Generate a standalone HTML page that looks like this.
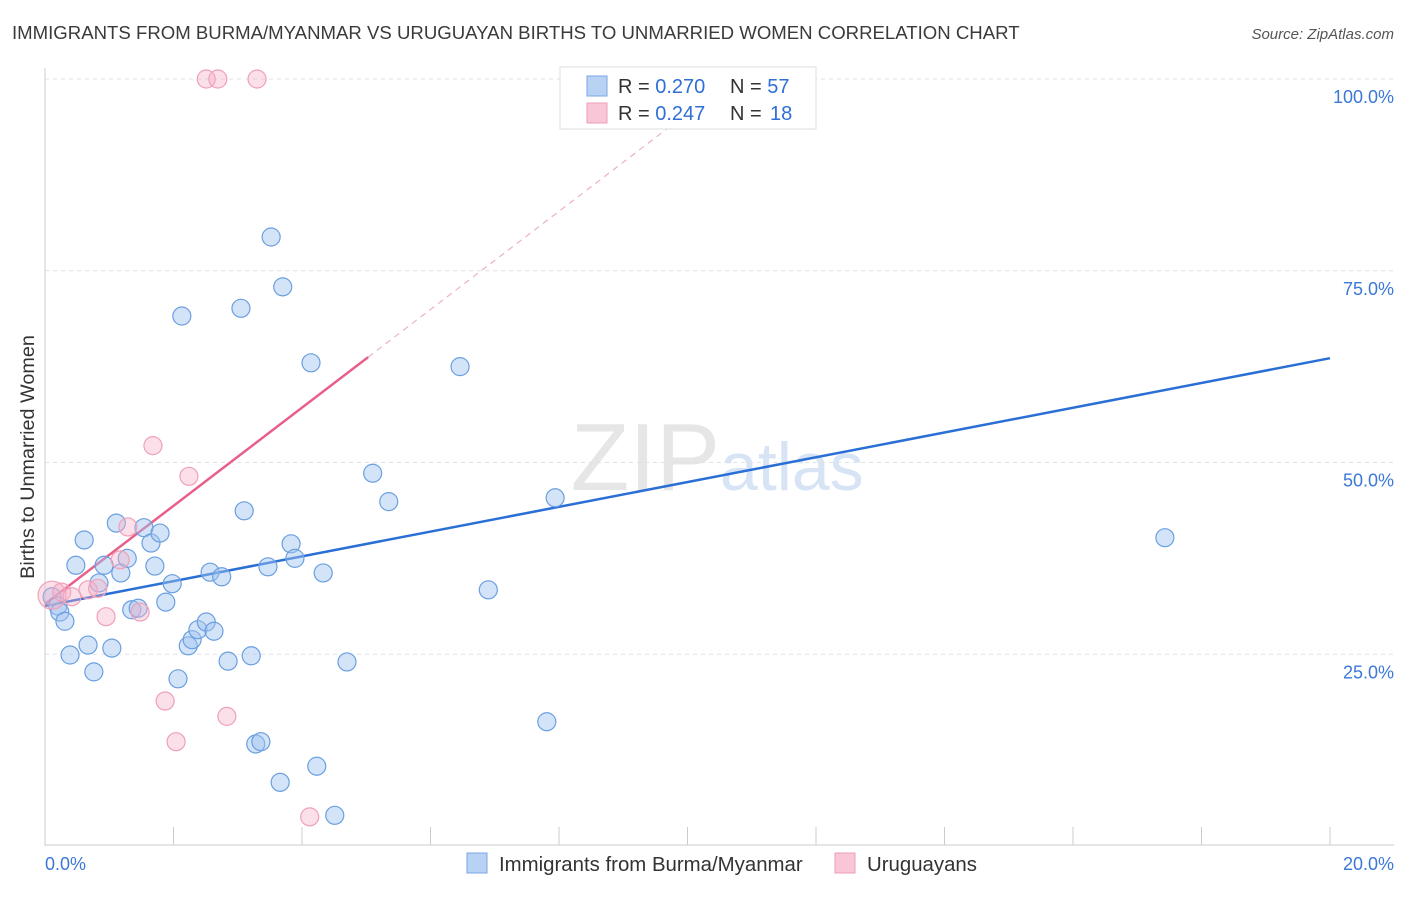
<!DOCTYPE html>
<html><head><meta charset="utf-8"><style>
body{margin:0;background:#fff;font-family:"Liberation Sans",sans-serif}
svg text{font-family:"Liberation Sans",sans-serif}
</style></head><body>
<svg id="chart" width="1406" height="892">
<text x="12" y="39" font-size="18.6" fill="#3a3a3a">IMMIGRANTS FROM BURMA/MYANMAR VS URUGUAYAN BIRTHS TO UNMARRIED WOMEN CORRELATION CHART</text>
<text x="1394" y="39" font-size="15" fill="#555" text-anchor="end" font-style="italic">Source: ZipAtlas.com</text>
<text x="720" y="490" font-size="96" fill="#e6e6e6" text-anchor="end" font-family="Liberation Serif">ZIP</text>
<text x="720" y="490" font-size="68" fill="#d6e4f6">atlas</text>
<text transform="translate(34,457) rotate(-90)" font-size="19.8" fill="#333" text-anchor="middle">Births to Unmarried Women</text>
<g id="grid"></g><g id="axes"></g><g id="lines"></g><g id="pts"></g>
<g>
<rect x="560" y="67" width="256" height="62" fill="#fff" stroke="#ddd"/>
<rect x="587" y="76" width="20" height="20" fill="#b8d2f4" stroke="#7aa6e4"/>
<rect x="587" y="103" width="20" height="20" fill="#f8c6d6" stroke="#ee9fba"/>
<text x="618" y="93" font-size="20" fill="#333">R = <tspan fill="#2f6fd6">0.270</tspan><tspan x="730">N = </tspan><tspan fill="#2f6fd6">57</tspan></text>
<text x="618" y="120" font-size="20" fill="#333">R = <tspan fill="#2f6fd6">0.247</tspan><tspan x="730">N = </tspan><tspan x="770" fill="#2f6fd6">18</tspan></text>
</g>
<g>
<rect x="467" y="853" width="20" height="20" fill="#b8d2f4" stroke="#7aa6e4"/>
<text x="499" y="871" font-size="20.4" fill="#333">Immigrants from Burma/Myanmar</text>
<rect x="835" y="853" width="20" height="20" fill="#f8c6d6" stroke="#ee9fba"/>
<text x="867" y="871" font-size="20.4" fill="#333">Uruguayans</text>
</g>
</svg>
<script>
const yTicks=[25,50,75,100];
const yTickLabels=["25.0%","50.0%","75.0%","100.0%"];
const xTickLabels=["0.0%","20.0%"];
const blueX=[0.11,0.20,0.23,0.31,0.39,0.48,0.61,0.67,0.76,0.84,0.92,1.04,1.11,1.18,1.28,1.35,1.45,1.54,1.65,1.71,1.79,1.88,1.98,2.07,2.13,2.23,2.29,2.38,2.51,2.57,2.63,2.75,2.85,3.05,3.10,3.21,3.28,3.36,3.47,3.52,3.66,3.70,3.83,3.89,4.14,4.23,4.33,4.51,4.70,5.10,5.35,6.46,6.90,7.81,7.94,11.19,17.43];
const blueY=[32.5,31.3,30.5,29.3,24.9,36.6,39.9,26.2,22.7,34.3,36.6,25.8,42.1,35.6,37.5,30.8,31.0,41.5,39.5,36.5,40.8,31.8,34.2,21.8,69.1,26.1,26.9,28.2,29.2,35.7,28.0,35.1,24.1,70.1,43.7,24.8,13.3,13.6,36.4,79.4,8.3,72.9,39.4,37.5,63.0,10.4,35.6,4.0,24.0,48.6,44.9,62.5,33.4,16.2,45.4,100,40.2];
const pinkX=[0.11,0.26,0.42,0.67,0.82,0.95,1.17,1.29,1.48,1.68,1.87,2.04,2.24,2.51,2.69,2.83,3.30,4.12];
const pinkY=[32.7,33.1,32.5,33.4,33.6,29.9,37.3,41.6,30.5,52.2,18.9,13.6,48.2,100,100,16.9,100,3.8];
const blueTrend=[31.3,63.6];
const pinkTrend=[31.55,6.4];
const NS="http://www.w3.org/2000/svg";
const sx=v=>45+v/20*1285, sy=v=>846-v/100*767;
function mk(tag,attrs,parent){const e=document.createElementNS(NS,tag);for(const k in attrs)e.setAttribute(k,attrs[k]);document.getElementById(parent).appendChild(e);return e;}
yTicks.forEach((t,i)=>{
 const l=mk('line',{x1:45,x2:1394,y1:sy(t),y2:sy(t),stroke:'#e2e2e2','stroke-dasharray':'4,4'},'grid');
 
 
 const tx=mk('text',{x:1394,y:sy(t)+24,'font-size':18,fill:'#3b78d8','text-anchor':'end'},'grid');tx.textContent=yTickLabels[i];
 
 
});
mk('line',{x1:45,x2:45,y1:68,y2:846,stroke:'#ccc'},'axes');
mk('line',{x1:45,x2:1394,y1:845,y2:845,stroke:'#ccc'},'axes');
for(let i=0;i<=10;i++){const t=mk('line',{x1:sx(i*2),x2:sx(i*2),y1:827,y2:845,stroke:'#ccc'},'axes');
 
 }
[[0,'start',45],[1,'end',1394]].forEach(([i,a,x])=>{const t=mk('text',{x:x,y:870,'font-size':18,fill:'#3b78d8','text-anchor':a},'axes');t.textContent=xTickLabels[i];
 
 });
function pts(X,Y,fill,stroke,name){X.forEach((x,i)=>{const c=mk('circle',{cx:sx(x),cy:sy(Y[i]),r:(name==='point-uruguayans'&&i===0)?14:9,fill:fill,stroke:stroke,'stroke-width':1.2},'pts');
 
 });}
pts(blueX,blueY,'rgba(160,196,240,0.45)','#6a9fe0','point-burma');
pts(pinkX,pinkY,'rgba(246,176,200,0.4)','#f0a0b8','point-uruguayans');
const bl=mk('line',{x1:sx(0),y1:sy(blueTrend[0]),x2:sx(20),y2:sy(blueTrend[1]),stroke:'#2a6fd6','stroke-width':2.5},'lines');


const pEnd=5.03;
const pl=mk('line',{x1:sx(0),y1:sy(pinkTrend[0]),x2:sx(pEnd),y2:sy(pinkTrend[0]+pinkTrend[1]*pEnd),stroke:'#e8608a','stroke-width':2.5},'lines');


const pxEnd=(100-pinkTrend[0])/pinkTrend[1];
const pd=mk('line',{x1:sx(pEnd),y1:sy(pinkTrend[0]+pinkTrend[1]*pEnd),x2:sx(pxEnd),y2:sy(100),stroke:'#eeb0c4','stroke-width':1.2,'stroke-dasharray':'6,5'},'lines');


</script>
</body></html>
